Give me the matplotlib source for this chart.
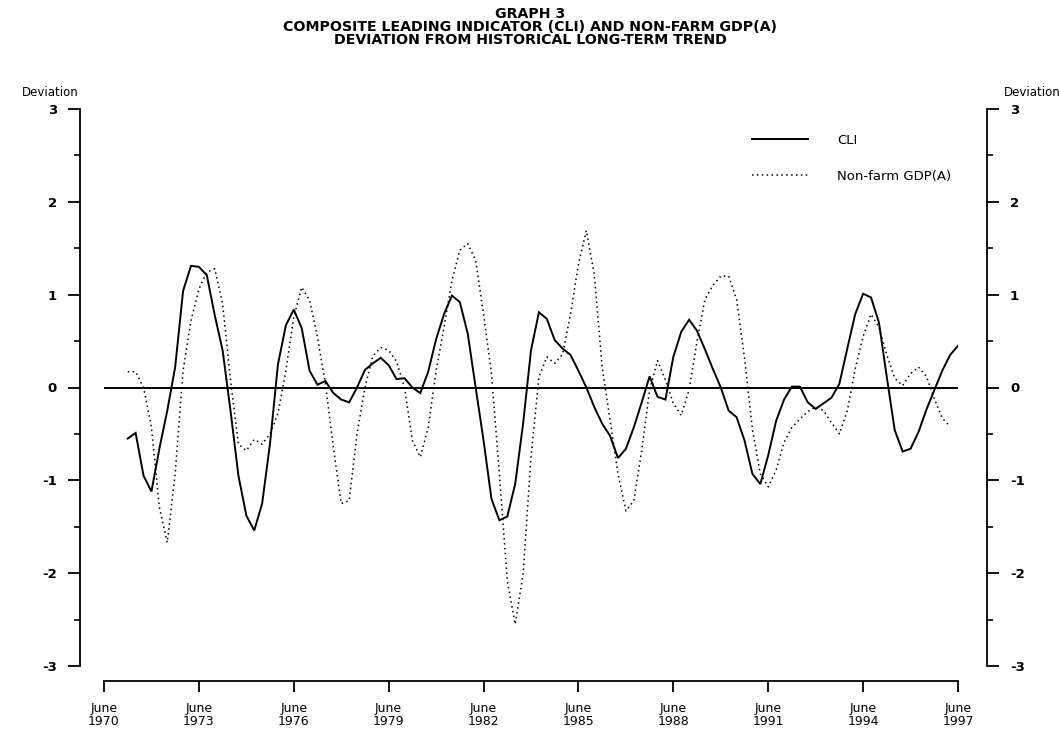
import numpy as np
import matplotlib
matplotlib.use("Agg")
import matplotlib.pyplot as plt

# Quarterly deviations from long-term trend, first quarter = March 1971
start_year = 1971.25
cli = [-0.55, -0.49, -0.95, -1.12, -0.66, -0.25, 0.22, 1.04, 1.31, 1.30,
       1.21, 0.78, 0.40, -0.25, -0.95, -1.38, -1.54, -1.25, -0.60, 0.25,
       0.67, 0.84, 0.64, 0.18, 0.03, 0.07, -0.06, -0.13, -0.16, 0.00,
       0.19, 0.26, 0.32, 0.24, 0.09, 0.10, 0.00, -0.06, 0.17, 0.52,
       0.79, 0.99, 0.92, 0.58, 0.00, -0.57, -1.20, -1.43, -1.39, -1.04,
       -0.39, 0.40, 0.81, 0.74, 0.51, 0.42, 0.35, 0.18, 0.00, -0.21,
       -0.39, -0.52, -0.76, -0.66, -0.43, -0.16, 0.12, -0.10, -0.13, 0.33,
       0.60, 0.73, 0.61, 0.41, 0.20, 0.00, -0.25, -0.32, -0.57, -0.93,
       -1.04, -0.73, -0.36, -0.13, 0.01, 0.01, -0.16, -0.23, -0.17, -0.11,
       0.04, 0.42, 0.79, 1.01, 0.97, 0.70, 0.11, -0.46, -0.69, -0.66,
       -0.48, -0.24, -0.03, 0.18, 0.35, 0.45]
gdp = [0.17, 0.17, 0.00, -0.43, -1.29, -1.67, -0.93, 0.18, 0.72, 1.06,
       1.24, 1.28, 0.90, 0.08, -0.61, -0.68, -0.56, -0.61, -0.50, -0.28,
       0.18, 0.76, 1.08, 0.94, 0.54, 0.04, -0.64, -1.25, -1.22, -0.50,
       0.00, 0.34, 0.43, 0.40, 0.28, 0.00, -0.57, -0.75, -0.43, 0.18,
       0.65, 1.15, 1.48, 1.55, 1.37, 0.79, 0.15, -0.93, -2.08, -2.55,
       -2.01, -0.75, 0.11, 0.33, 0.26, 0.36, 0.79, 1.33, 1.69, 1.22,
       0.22, -0.35, -0.93, -1.33, -1.22, -0.68, -0.03, 0.29, 0.08, -0.17,
       -0.30, -0.02, 0.50, 0.95, 1.10, 1.20, 1.20, 0.95, 0.32, -0.45,
       -0.93, -1.07, -0.89, -0.59, -0.43, -0.34, -0.26, -0.21, -0.25, -0.38,
       -0.50, -0.25, 0.20, 0.55, 0.79, 0.65, 0.35, 0.10, 0.02, 0.15,
       0.22, 0.12, -0.12, -0.33, -0.42]

tick_years = [1970, 1973, 1976, 1979, 1982, 1985, 1988, 1991, 1994, 1997]
tick_labels = ["June\n%d" % y for y in tick_years]

plt.rcParams['font.family'] = ['DejaVu Sans']
plt.rcParams['axes.unicode_minus'] = False

W, H = 1059, 736
fig = plt.figure(figsize=(W / 100, H / 100), dpi=100)
ax = fig.add_axes([104 / W, 1 - 666 / H, 854 / W, 557 / H])

t_cli = start_year + 0.25 * np.arange(len(cli))
t_gdp = start_year + 0.25 * np.arange(len(gdp))

ax.axhline(0, color='black', lw=1.4)
ax.plot(t_cli, cli, color='black', lw=1.4, solid_joinstyle='miter', label='CLI')
ax.plot(t_gdp, gdp, color='black', lw=1.1, linestyle=(0, (1, 2.2)),
        label='Non-farm GDP(A)')

ax.set_xlim(1970.5, 1997.5)
ax.set_ylim(-3, 3)

# spines detached like the printed graph
ax.spines['top'].set_visible(False)
ax.spines['left'].set_position(('axes', -24 / 854))
ax.spines['right'].set_position(('axes', 1 + 29 / 854))
ax.spines['bottom'].set_position(('axes', -15 / 557))
for s in ['left', 'right', 'bottom']:
    ax.spines[s].set_linewidth(1.3)

ax.set_xticks([y + 0.5 for y in tick_years])
ax.set_xticklabels(tick_labels, fontsize=9, linespacing=1.0)
ax.set_yticks([-3, -2, -1, 0, 1, 2, 3])
ax.set_yticklabels(['-3', '-2', '-1', '0', '1', '2', '3'], fontsize=9.5, fontweight='bold')
ax.set_yticks(np.arange(-2.5, 3, 1.0), minor=True)

ax.tick_params(axis='x', direction='out', length=8, width=1.3, pad=7)
ax.tick_params(axis='y', which='major', direction='out', length=8.5, width=1.3,
               pad=8, left=True, right=True, labelleft=True, labelright=True)
ax.tick_params(axis='y', which='minor', direction='out', length=4.5, width=1.2,
               left=True, right=True)

fig.text(50 / W, 1 - 92 / H, 'Deviation', ha='center', va='center', fontsize=8.5)
fig.text(1032 / W, 1 - 92 / H, 'Deviation', ha='center', va='center', fontsize=8.5)

title = ("GRAPH 3\nCOMPOSITE LEADING INDICATOR (CLI) AND NON-FARM GDP(A)\n"
         "DEVIATION FROM HISTORICAL LONG-TERM TREND")
fig.text(530 / W, 1 - 27 / H, title, ha='center', va='center', fontsize=10.2,
         fontweight='bold', linespacing=0.95)

ax.legend(loc='upper left', bbox_to_anchor=(752 / W, 1 - 134 / H),
          bbox_transform=fig.transFigure, frameon=False, fontsize=9.5,
          handlelength=4.25, handletextpad=2.2, labelspacing=1.72,
          borderpad=0, borderaxespad=0)

fig.savefig('out.png', dpi=100)
